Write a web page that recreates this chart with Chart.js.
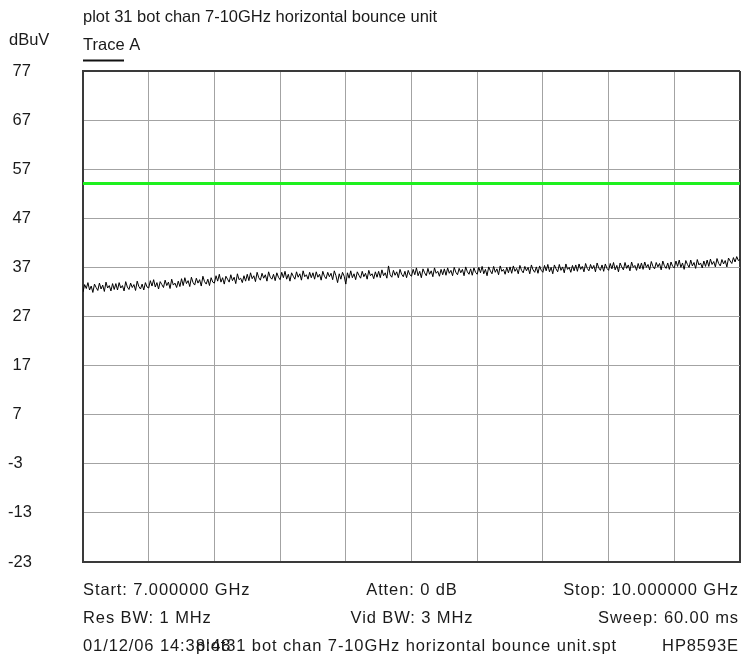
<!DOCTYPE html>
<html>
<head>
<meta charset="utf-8">
<script src="https://cdn.jsdelivr.net/npm/chart.js@4/dist/chart.umd.min.js"></script>
<style>
  html, body { margin: 0; padding: 0; background: #ffffff; }
  canvas { display: block; }
</style>
</head>
<body>
<canvas id="c" width="742" height="662"></canvas>
<script>
// ---- data ----
const startGHz = 7.0;
const stopGHz = 10.0;
const xTicks = [7.0, 7.3, 7.6, 7.9, 8.2, 8.5, 8.8, 9.1, 9.4, 9.7, 10.0];
const yTicks = [-23, -13, -3, 7, 17, 27, 37, 47, 57, 67, 77];
const limitLine = [54.1, 54.1];
const traceA = [
  32.0, 33.5, 32.7, 33.9, 32.4, 33.2, 31.9, 33.6, 32.9, 32.3, 33.8, 32.6, 33.4, 32.1, 34.0, 32.8, 33.3, 32.2, 33.7, 32.5,
  33.7, 32.4, 33.9, 32.8, 33.3, 32.2, 34.1, 33.0, 32.5, 33.8, 32.9, 33.5, 32.3, 34.2, 33.1, 32.6, 33.6, 32.4, 33.9, 33.0,
  32.8, 34.3, 33.2, 34.5, 33.0, 33.9, 32.6, 34.1, 33.5, 32.9, 34.4, 33.3, 34.0, 32.7, 34.6, 33.4, 33.8, 32.9, 34.2, 33.1,
  34.7, 33.3, 34.9, 33.7, 34.3, 33.1, 35.0, 33.9, 33.4, 34.8, 33.8, 34.5, 33.2, 35.2, 34.1, 33.6, 34.6, 33.3, 34.9, 34.0,
  33.8, 35.3, 34.2, 35.6, 34.0, 34.9, 33.6, 35.2, 34.6, 34.0, 35.5, 34.3, 35.0, 33.7, 35.7, 34.5, 34.8, 33.9, 35.3, 34.2,
  35.6, 34.3, 35.9, 34.7, 35.3, 34.1, 36.0, 34.9, 34.4, 35.8, 34.8, 35.5, 34.2, 36.1, 35.0, 34.6, 35.6, 34.3, 35.9, 35.0,
  34.5, 36.0, 34.9, 36.2, 34.6, 35.6, 34.2, 35.9, 35.2, 34.6, 36.1, 35.0, 35.7, 34.4, 36.3, 35.1, 35.5, 34.6, 36.0, 34.9,
  35.9, 34.6, 36.1, 35.0, 35.6, 34.4, 36.2, 35.2, 34.7, 36.0, 35.1, 35.8, 34.5, 36.3, 35.3, 33.9, 35.7, 34.6, 36.0, 35.2,
  33.6, 35.9, 34.8, 36.3, 34.9, 35.7, 34.5, 36.1, 35.4, 34.8, 36.2, 35.1, 35.8, 34.6, 36.4, 35.3, 35.7, 34.7, 36.1, 35.0,
  36.2, 34.9, 36.5, 35.3, 35.9, 34.8, 37.3, 35.5, 35.0, 36.4, 35.4, 36.1, 34.9, 36.6, 35.6, 35.1, 36.2, 34.9, 36.4, 35.5,
  35.2, 36.6, 35.5, 36.9, 35.3, 36.2, 34.9, 36.7, 35.9, 35.3, 36.8, 35.6, 36.3, 35.1, 36.9, 35.8, 36.2, 35.2, 36.6, 35.5,
  36.7, 35.4, 36.9, 35.8, 36.4, 35.3, 37.0, 36.0, 35.5, 36.8, 35.9, 36.6, 35.3, 37.1, 36.1, 35.6, 36.7, 35.4, 36.9, 36.0,
  35.6, 37.0, 35.9, 37.2, 35.7, 36.6, 35.3, 37.1, 36.3, 35.7, 37.2, 36.0, 36.7, 35.5, 37.3, 36.2, 36.6, 35.6, 37.0, 35.9,
  37.1, 35.8, 37.3, 36.2, 36.8, 35.7, 37.4, 36.4, 35.9, 37.2, 36.3, 37.0, 35.7, 37.5, 36.5, 36.0, 37.1, 35.8, 37.3, 36.4,
  36.0, 37.4, 36.3, 37.6, 36.1, 37.0, 35.7, 37.5, 36.7, 36.1, 37.6, 36.4, 37.1, 35.9, 37.7, 36.6, 37.0, 36.0, 37.4, 36.3,
  37.5, 36.2, 37.7, 36.6, 37.2, 36.1, 37.8, 36.8, 36.3, 37.6, 36.7, 37.4, 36.1, 37.9, 36.9, 36.4, 37.5, 36.2, 37.7, 36.8,
  36.4, 37.8, 36.7, 38.0, 36.5, 37.4, 36.1, 37.9, 37.1, 36.5, 38.0, 36.8, 37.5, 36.3, 38.1, 37.0, 37.4, 36.4, 37.8, 36.7,
  37.9, 36.6, 38.1, 37.0, 37.6, 36.5, 38.2, 37.2, 36.7, 38.0, 37.1, 37.8, 36.5, 38.3, 37.3, 36.8, 37.9, 36.6, 38.1, 37.2,
  36.9, 38.3, 37.2, 38.5, 37.0, 37.9, 36.6, 38.4, 37.6, 37.0, 38.5, 37.3, 38.0, 36.8, 38.6, 37.5, 37.9, 36.9, 38.3, 37.2,
  38.5, 37.2, 38.7, 37.6, 38.2, 37.1, 38.8, 37.8, 37.3, 38.6, 37.7, 38.4, 37.1, 38.9, 38.3, 37.8, 39.0, 38.1, 39.2, 38.4,
  38.6
];

const titleText = 'plot 31 bot chan 7-10GHz horizontal bounce unit';
const unitText = 'dBuV';
const traceLabel = 'Trace A';
const footerRow1 = ['Start: 7.000000 GHz', 'Atten: 0 dB', 'Stop: 10.000000 GHz'];
const footerRow2 = ['Res BW: 1 MHz', 'Vid BW: 3 MHz', 'Sweep: 60.00 ms'];
const footerDate = '01/12/06 14:38:48';
const footerFile = 'plot31 bot chan 7-10GHz horizontal bounce unit.spt';
const footerModel = 'HP8593E';

// ---- build ----
const FONT = '16.5px "Liberation Sans", Arial, sans-serif';
const TXT = '#1a1a1a';
const step = (stopGHz - startGHz) / (traceA.length - 1);
const traceData = traceA.map((v, i) => ({ x: startGHz + i * step, y: v }));
const limitData = [{ x: startGHz, y: limitLine[0] }, { x: stopGHz, y: limitLine[1] }];

const textPlugin = {
  id: 'analyzerText',
  afterDraw(chart) {
    const ctx = chart.ctx;
    const area = chart.chartArea;
    ctx.save();
    ctx.font = FONT;
    ctx.fillStyle = TXT;
    ctx.textBaseline = 'alphabetic';
    ctx.textAlign = 'left';
    ctx.fillText(titleText, area.left, 22);
    ctx.fillText(unitText, 9, 45);
    ctx.fillText(traceLabel, area.left, 50);
    ctx.fillStyle = '#111';
    ctx.fillRect(area.left, 59.5, 41, 2);
    ctx.fillStyle = TXT;
    ctx.letterSpacing = '0.9px';
    const mid = 412;
    const right = 739;
    const rows = [[footerRow1, 595], [footerRow2, 623]];
    rows.forEach(([row, y]) => {
      ctx.textAlign = 'left';  ctx.fillText(row[0], area.left, y);
      ctx.textAlign = 'center'; ctx.fillText(row[1], mid, y);
      ctx.textAlign = 'right'; ctx.fillText(row[2], right, y);
    });
    ctx.textAlign = 'left';
    ctx.fillText(footerDate, area.left, 651);
    ctx.fillText(footerFile, 196, 651);
    ctx.textAlign = 'right';
    ctx.fillText(footerModel, right, 651);
    ctx.restore();
  }
};

const edgeColor = '#3a3a3a';
const gridColor = '#a3a3a3';

new Chart(document.getElementById('c'), {
  type: 'line',
  data: {
    datasets: [
      {
        label: 'Limit',
        data: limitData,
        borderColor: '#1ef01e',
        borderWidth: 3,
        pointRadius: 0,
        tension: 0
      },
      {
        label: 'Trace A',
        data: traceData,
        borderColor: '#000000',
        borderWidth: 1,
        pointRadius: 0,
        tension: 0
      }
    ]
  },
  options: {
    responsive: false,
    devicePixelRatio: 1,
    animation: false,
    layout: { padding: { left: 8, top: 71, right: 2, bottom: 100 } },
    plugins: { legend: { display: false }, tooltip: { enabled: false }, title: { display: false } },
    scales: {
      x: {
        type: 'linear',
        min: startGHz,
        max: stopGHz,
        afterBuildTicks(scale) { scale.ticks = xTicks.map(v => ({ value: v })); },
        afterFit(scale) { scale.height = 0; },
        ticks: { display: false },
        grid: {
          drawTicks: false,
          color: (c) => (c.index === xTicks.length - 1 || c.index === 0) ? edgeColor : gridColor,
          lineWidth: (c) => (c.index === xTicks.length - 1 || c.index === 0) ? 2 : 1
        },
        border: { display: true, color: edgeColor, width: 2 }
      },
      y: {
        type: 'linear',
        min: yTicks[0],
        max: yTicks[yTicks.length - 1],
        afterBuildTicks(scale) { scale.ticks = yTicks.map(v => ({ value: v })); },
        afterFit(scale) { scale.width = 75; },
        ticks: {
          crossAlign: 'far',
          color: TXT,
          font: { family: '"Liberation Sans", Arial, sans-serif', size: 16.5 },
          callback: (v) => (v >= 0 ? ' ' + v : String(v))
        },
        grid: {
          drawTicks: false,
          color: (c) => (c.index === yTicks.length - 1 || c.index === 0) ? edgeColor : gridColor,
          lineWidth: (c) => (c.index === yTicks.length - 1 || c.index === 0) ? 2 : 1
        },
        border: { display: true, color: edgeColor, width: 2 }
      }
    }
  },
  plugins: [textPlugin]
});
</script>
</body>
</html>
